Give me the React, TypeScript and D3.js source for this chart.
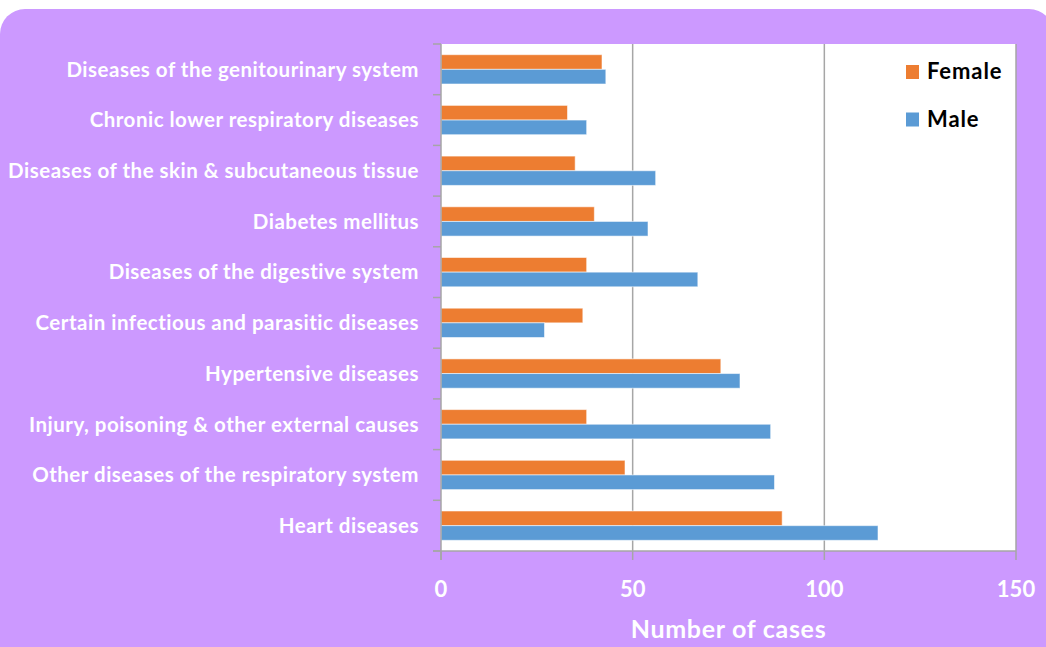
import React from "react";
import * as d3 from "d3";

const categories = [
  "Diseases of the genitourinary system",
  "Chronic lower respiratory diseases",
  "Diseases of the skin & subcutaneous tissue",
  "Diabetes mellitus",
  "Diseases of the digestive system",
  "Certain infectious and parasitic diseases",
  "Hypertensive diseases",
  "Injury, poisoning & other external causes",
  "Other diseases of the respiratory system",
  "Heart diseases",
];
const female = [42, 33, 35, 40, 38, 37, 73, 38, 48, 89];
const male = [43, 38, 56, 54, 67, 27, 78, 86, 87, 114];
const seriesNames = ["Female", "Male"];
const xTicks = [0, 50, 100, 150];
const axisTitle = "Number of cases";

const W = 1046;
const H = 647;
const plot = { left: 441, right: 1016, top: 44, bottom: 551 };
const COLORS: Record<string, string> = { Female: "#ED7D31", Male: "#5B9BD5" };
const FONT = "Lato, 'Open Sans', sans-serif";
const GRID = "#A6A6A6";

export default function App() {
  const x = d3.scaleLinear().domain([0, 150]).range([plot.left, plot.right]);
  const y = d3.scaleBand<string>().domain(categories).range([plot.top, plot.bottom]).padding(0);
  const sub = d3
    .scaleBand<string>()
    .domain(seriesNames)
    .range([0, y.bandwidth()])
    .paddingInner(0)
    .paddingOuter(0.73);
  const values: Record<string, number[]> = { Female: female, Male: male };
  const boundaries = d3.range(categories.length + 1).map((i) => plot.top + i * y.step());

  return (
    <svg
      width={W}
      height={H}
      style={{ position: "absolute", left: 0, top: 0, display: "block" }}
      fontFamily={FONT}
    >
      <rect x={0} y={9} width={1054} height={720} rx={25} ry={25} fill="#CC99FF" />
      <rect x={plot.left} y={plot.top} width={plot.right - plot.left} height={plot.bottom - plot.top} fill="#FFFFFF" />
      {/* gridlines */}
      {xTicks.slice(1).map((t) => (
        <line key={"g" + t} x1={x(t)} x2={x(t)} y1={plot.top} y2={plot.bottom} stroke={GRID} strokeWidth={1.5} />
      ))}
      {/* bars */}
      {categories.map((c, i) =>
        seriesNames.map((s) => (
          <rect
            key={c + s}
            x={x(0)}
            y={(y(c) as number) + (sub(s) as number)}
            width={x(values[s][i]) - x(0)}
            height={sub.bandwidth()}
            fill={COLORS[s]}
            stroke="#FFFFFF"
            strokeOpacity={0.55}
            strokeWidth={1}
          />
        ))
      )}
      {/* y axis */}
      <line x1={plot.left} x2={plot.left} y1={plot.top} y2={plot.bottom + 9} stroke={GRID} strokeWidth={1.5} />
      {boundaries.map((b, i) => (
        <line key={"yt" + i} x1={plot.left - 8} x2={plot.left} y1={b} y2={b} stroke={GRID} strokeWidth={1.5} />
      ))}
      {/* x axis */}
      <line x1={plot.left - 8} x2={plot.right} y1={plot.bottom} y2={plot.bottom} stroke={GRID} strokeWidth={1.5} />
      {xTicks.map((t) => (
        <g key={"xt" + t}>
          <line x1={x(t)} x2={x(t)} y1={plot.bottom} y2={plot.bottom + 9} stroke={GRID} strokeWidth={1.5} />
          <text x={x(t)} y={596.5} textAnchor="middle" fill="#FFFFFF" fontSize={22} fontWeight={700}>
            {t}
          </text>
        </g>
      ))}
      {/* category labels */}
      {categories.map((c) => (
        <text
          key={"l" + c}
          x={419}
          y={(y(c) as number) + y.bandwidth() / 2 + 7.3}
          textAnchor="end"
          fill="#FFFFFF"
          fontSize={20.5}
          fontWeight={700}
          letterSpacing={0.5}
        >
          {c}
        </text>
      ))}
      {/* axis title */}
      <text
        x={(plot.left + plot.right) / 2}
        y={638}
        textAnchor="middle"
        fill="#FFFFFF"
        fontSize={25}
        fontWeight={700}
        letterSpacing={0.7}
      >
        {axisTitle}
      </text>
      {/* legend */}
      {seriesNames.map((s, i) => (
        <g key={"lg" + s} transform={`translate(906, ${65 + i * 47.5})`}>
          <rect x={0} y={0} width={13} height={14} fill={COLORS[s]} />
          <text x={21} y={14} fill="#000000" fontSize={22} fontWeight={700} letterSpacing={0.9}>
            {s}
          </text>
        </g>
      ))}
    </svg>
  );
}
